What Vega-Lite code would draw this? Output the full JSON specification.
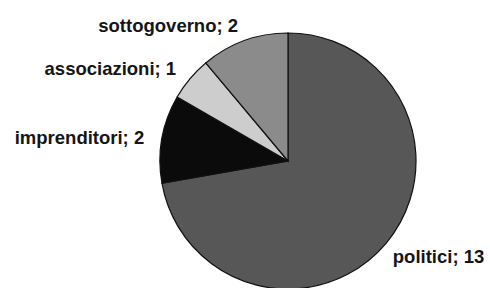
{
  "$schema": "https://vega.github.io/schema/vega-lite/v6.json",
  "width": 404,
  "height": 254,
  "autosize": {"type": "none"},
  "padding": {"left": 86, "top": 34, "right": 0, "bottom": 0},
  "background": "white",
  "view": {"stroke": null},
  "data": {
    "values": [
      {"categoria": "politici", "valore": 13, "ord": 1, "etichetta": "politici; 13"},
      {"categoria": "imprenditori", "valore": 2, "ord": 2, "etichetta": "imprenditori; 2"},
      {"categoria": "associazioni", "valore": 1, "ord": 3, "etichetta": "associazioni; 1"},
      {"categoria": "sottogoverno", "valore": 2, "ord": 4, "etichetta": "sottogoverno; 2"}
    ]
  },
  "encoding": {
    "theta": {"field": "valore", "type": "quantitative", "stack": true},
    "order": {"field": "ord", "type": "quantitative"}
  },
  "layer": [
    {
      "mark": {"type": "arc", "outerRadius": 128, "stroke": "#111111", "strokeWidth": 1.2},
      "encoding": {
        "color": {
          "field": "categoria",
          "type": "nominal",
          "scale": {
            "domain": ["politici", "imprenditori", "associazioni", "sottogoverno"],
            "range": ["#575757", "#0b0b0b", "#cdcdcd", "#8b8b8b"]
          },
          "legend": null
        }
      }
    },
    {
      "mark": {"type": "text", "radius": 146, "dy": 2, "align": "right", "baseline": "middle", "font": "Liberation Sans", "fontWeight": "bold", "fontSize": 18.5, "color": "#151515"},
      "encoding": {"text": {"condition": {"test": "datum.categoria === 'politici'", "value": ""}, "field": "etichetta"}}
    },
    {
      "mark": {"type": "text", "radius": 142, "dx": -4, "dy": 5, "align": "left", "baseline": "middle", "font": "Liberation Sans", "fontWeight": "bold", "fontSize": 18.5, "color": "#151515"},
      "encoding": {"text": {"condition": {"test": "datum.categoria !== 'politici'", "value": ""}, "field": "etichetta"}}
    }
  ]
}
